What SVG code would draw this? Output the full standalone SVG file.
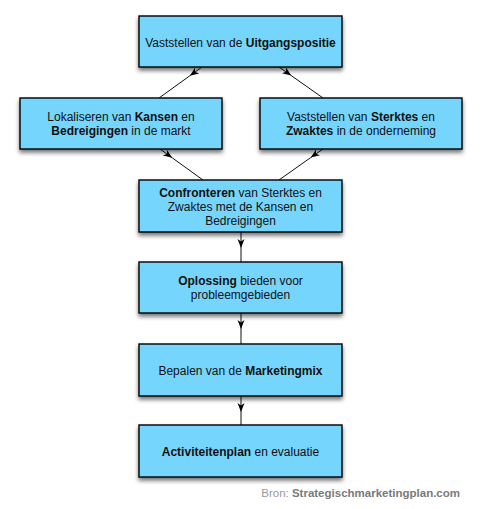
<svg xmlns="http://www.w3.org/2000/svg" width="482" height="509" viewBox="0 0 482 509">
<defs>
<filter id="sh" x="-10%" y="-20%" width="120%" height="160%">
<feDropShadow dx="0" dy="3" stdDeviation="2.2" flood-color="#000" flood-opacity="0.55"/>
</filter>
<marker id="ah" markerWidth="10" markerHeight="8" refX="9" refY="4" orient="auto" markerUnits="userSpaceOnUse">
<path d="M0,0.5 L9,4 L0,7.5 L2.5,4 z" fill="#000"/>
</marker>
<style>
.box{fill:#76D5FC;stroke:#000;stroke-width:1.4;filter:url(#sh)}
.t{font-family:"Liberation Sans",Arial,Helvetica,sans-serif;font-size:12px;fill:#111;text-anchor:middle}
.b{font-weight:bold}
.c{fill:none;stroke:#111;stroke-width:1;marker-mid:url(#ah)}
.src{font-family:"Liberation Sans",Arial,Helvetica,sans-serif;font-size:11.5px;fill:#9a9a9a}
</style>
</defs>
<g id="connectors">
<path class="c" d="M202,67 L189.8,75.8 L159,98"/>
<path class="c" d="M279,67 L291.3,75.6 L323,98"/>
<path class="c" d="M160,149 L172.2,157.8 L203,180"/>
<path class="c" d="M323,149 L310.7,157.6 L279,180"/>
<path class="c" d="M241,232 L241,248 L241,262"/>
<path class="c" d="M241,313 L241,329 L241,344"/>
<path class="c" d="M241,396 L241,412 L241,425"/>
</g>
<g id="n1">
<rect class="box" x="139" y="16" width="203" height="51"/>
<text class="t" x="240.5" y="46.5">Vaststellen van de <tspan class="b">Uitgangspositie</tspan></text>
</g>
<g id="n2">
<rect class="box" x="20" y="98" width="202" height="51"/>
<text class="t" x="121" y="120.5">Lokaliseren van <tspan class="b">Kansen</tspan> en</text>
<text class="t" x="121" y="135"><tspan class="b">Bedreigingen</tspan> in de markt</text>
</g>
<g id="n3">
<rect class="box" x="260" y="98" width="202" height="51"/>
<text class="t" x="361" y="120.5">Vaststellen van <tspan class="b">Sterktes</tspan> en</text>
<text class="t" x="361" y="135"><tspan class="b">Zwaktes</tspan> in de onderneming</text>
</g>
<g id="n4">
<rect class="box" x="139" y="180" width="203" height="52"/>
<text class="t" x="240.5" y="197"><tspan class="b">Confronteren</tspan> van Sterktes en</text>
<text class="t" x="240.5" y="210.5">Zwaktes met de Kansen en</text>
<text class="t" x="240.5" y="224.5">Bedreigingen</text>
</g>
<g id="n5">
<rect class="box" x="139" y="262" width="203" height="51"/>
<text class="t" x="240.5" y="285"><tspan class="b">Oplossing</tspan> bieden voor</text>
<text class="t" x="240.5" y="299">probleemgebieden</text>
</g>
<g id="n6">
<rect class="box" x="139" y="344" width="203" height="52"/>
<text class="t" x="240.5" y="374.5">Bepalen van de <tspan class="b">Marketingmix</tspan></text>
</g>
<g id="n7">
<rect class="box" x="139" y="425" width="203" height="52"/>
<text class="t" x="240.5" y="455.5"><tspan class="b">Activiteitenplan</tspan> en evaluatie</text>
</g>
<text class="src" x="460" y="497" text-anchor="end">Bron: <tspan class="b" fill="#7a7a7a">Strategischmarketingplan.com</tspan></text>
</svg>
